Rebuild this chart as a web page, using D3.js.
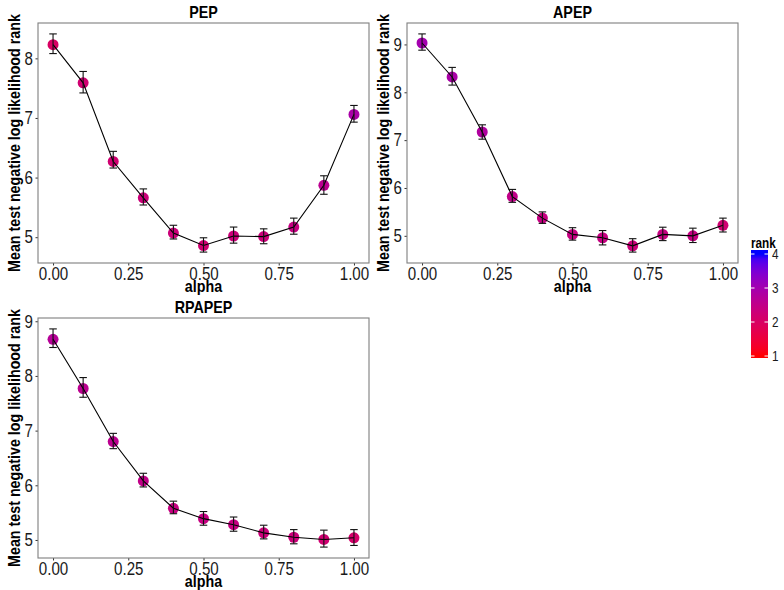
<!DOCTYPE html>
<html>
<head>
<meta charset="utf-8">
<script src="https://cdn.jsdelivr.net/npm/d3@7"></script>
<style>
  body { margin: 0; background: #fff; }
  text { font-family: "Liberation Sans", Arial, sans-serif; }
</style>
</head>
<body>
<div id="chart"></div>
<script>
// alpha values shared by every panel
const alphas = [0, 0.1, 0.2, 0.3, 0.4, 0.5, 0.6, 0.7, 0.8, 0.9, 1.0];
const xTicks = [0, 0.25, 0.5, 0.75, 1];

// PEP
const pepMean  = [8.23, 7.59, 6.27, 5.66, 5.07, 4.86, 5.02, 5.01, 5.17, 5.87, 7.06];
const pepLow   = [8.08, 7.42, 6.16, 5.54, 4.97, 4.75, 4.90, 4.89, 5.05, 5.72, 6.93];
const pepHigh  = [8.41, 7.78, 6.44, 5.81, 5.20, 4.99, 5.17, 5.14, 5.32, 6.03, 7.21];
const pepRank  = [2.0, 2.2, 2.2, 2.3, 2.3, 2.2, 2.3, 2.3, 2.4, 2.6, 2.9];

// APEP
const apepMean = [9.03, 8.32, 7.17, 5.82, 5.37, 5.03, 4.96, 4.79, 5.03, 5.00, 5.22];
const apepLow  = [8.88, 8.15, 7.02, 5.70, 5.26, 4.91, 4.81, 4.66, 4.90, 4.86, 5.08];
const apepHigh = [9.22, 8.52, 7.32, 5.97, 5.50, 5.17, 5.11, 4.94, 5.18, 5.16, 5.37];
const apepRank = [3.0, 2.9, 2.8, 2.5, 2.4, 2.4, 2.4, 2.3, 2.4, 2.4, 2.2];

// RPAPEP
const rpMean   = [8.67, 7.77, 6.80, 6.08, 5.58, 5.39, 5.28, 5.13, 5.05, 5.01, 5.04];
const rpLow    = [8.52, 7.61, 6.67, 5.97, 5.48, 5.27, 5.16, 5.02, 4.93, 4.87, 4.90];
const rpHigh   = [8.86, 7.97, 6.95, 6.22, 5.71, 5.52, 5.42, 5.27, 5.19, 5.18, 5.19];
const rpRank   = [2.7, 2.6, 2.6, 2.5, 2.4, 2.4, 2.4, 2.3, 2.3, 2.2, 2.1];

const legendBreaks = [1, 2, 3, 4];

const width = 784, height = 590;
const svg = d3.select("#chart").append("svg")
    .attr("width", width)
    .attr("height", height);

const color = d3.scaleLinear().domain([1, 4])
    .range(["red", "blue"])
    .interpolate(d3.interpolateLab);

function toRows(mean, low, high, rank) {
  return alphas.map((a, i) => ({ a: a, m: mean[i], lo: low[i], hi: high[i], r: rank[i] }));
}

function drawPanel(title, rows, box) {
  const g = svg.append("g");

  const x = d3.scaleLinear().domain([-0.05, 1.05]).range([box.left, box.right]);
  const lo = d3.min(rows, d => d.lo), hi = d3.max(rows, d => d.hi);
  const pad = (hi - lo) * 0.05;
  const y = d3.scaleLinear().domain([lo - pad, hi + pad]).range([box.bottom, box.top]);

  // axes (ticks only, no domain line)
  g.append("g")
    .attr("transform", `translate(0,${box.bottom})`)
    .call(d3.axisBottom(x).tickValues(xTicks).tickFormat(d3.format(".2f")).tickSize(2.5).tickPadding(1.8))
    .call(a => a.select(".domain").remove())
    .call(a => a.selectAll("line").attr("stroke", "#333"))
    .call(a => a.selectAll("text").attr("font-size", 18).attr("fill", "#1a1a1a").attr("font-family", null));

  g.append("g")
    .attr("transform", `translate(${box.left},0)`)
    .call(d3.axisLeft(y).ticks(5).tickFormat(d3.format("d")).tickSize(2.5).tickPadding(2.5))
    .call(a => a.select(".domain").remove())
    .call(a => a.selectAll("line").attr("stroke", "#333"))
    .call(a => a.selectAll("text").attr("font-size", 18).attr("fill", "#1a1a1a").attr("font-family", null));

  // points first, then line and error bars on top
  g.selectAll("circle")
    .data(rows)
    .join("circle")
    .attr("cx", d => x(d.a))
    .attr("cy", d => y(d.m))
    .attr("r", 5.5)
    .attr("fill", d => color(d.r));

  g.append("path")
    .datum(rows)
    .attr("fill", "none")
    .attr("stroke", "#000")
    .attr("stroke-width", 1.1)
    .attr("d", d3.line().x(d => x(d.a)).y(d => y(d.m)));

  const capW = x(0.0125) - x(0);
  const eb = g.selectAll(".eb").data(rows).join("g").attr("class", "eb")
    .attr("stroke", "#111").attr("stroke-width", 1.1);
  eb.append("line")
    .attr("x1", d => x(d.a)).attr("x2", d => x(d.a))
    .attr("y1", d => y(d.lo)).attr("y2", d => y(d.hi));
  eb.append("line")
    .attr("x1", d => x(d.a) - capW).attr("x2", d => x(d.a) + capW)
    .attr("y1", d => y(d.lo)).attr("y2", d => y(d.lo));
  eb.append("line")
    .attr("x1", d => x(d.a) - capW).attr("x2", d => x(d.a) + capW)
    .attr("y1", d => y(d.hi)).attr("y2", d => y(d.hi));

  // panel border
  g.append("rect")
    .attr("x", box.left).attr("y", box.top)
    .attr("width", box.right - box.left).attr("height", box.bottom - box.top)
    .attr("fill", "none").attr("stroke", "#7f7f7f").attr("stroke-width", 1.1);

  // titles
  const cx = (box.left + box.right) / 2;
  g.append("text")
    .attr("x", cx).attr("y", box.top - 5)
    .attr("text-anchor", "middle")
    .attr("font-size", 17).attr("font-weight", "bold")
    .text(title);

  g.append("text")
    .attr("x", cx).attr("y", box.bottom + 29)
    .attr("text-anchor", "middle")
    .attr("font-size", 17).attr("font-weight", "bold")
    .text("alpha");

  g.append("text")
    .attr("transform", `translate(${box.left - 18},${(box.top + box.bottom) / 2}) rotate(-90)`)
    .attr("text-anchor", "middle")
    .attr("font-size", 17).attr("font-weight", "bold")
    .text("Mean test negative log likelihood rank");
}

drawPanel("PEP", toRows(pepMean, pepLow, pepHigh, pepRank), { left: 38, right: 369, top: 23, bottom: 263 });
drawPanel("APEP", toRows(apepMean, apepLow, apepHigh, apepRank), { left: 407, right: 738, top: 23, bottom: 263 });
drawPanel("RPAPEP", toRows(rpMean, rpLow, rpHigh, rpRank), { left: 38, right: 369, top: 318, bottom: 558 });

// colour bar legend
const leg = { x: 751, top: 250, bottom: 358, w: 17 };
const ly = d3.scaleLinear().domain([1, 4]).range([leg.bottom - 2, leg.top + 4]);

const defs = svg.append("defs");
const grad = defs.append("linearGradient").attr("id", "rankGrad")
    .attr("gradientUnits", "userSpaceOnUse")
    .attr("x1", 0).attr("x2", 0).attr("y1", ly(1)).attr("y2", ly(4));
d3.range(0, 1.0001, 0.05).forEach(t => {
  grad.append("stop").attr("offset", t).attr("stop-color", color(1 + t * 3));
});

svg.append("rect")
  .attr("x", leg.x).attr("y", leg.top)
  .attr("width", leg.w).attr("height", leg.bottom - leg.top)
  .attr("fill", "url(#rankGrad)");

legendBreaks.forEach(b => {
  svg.append("line")
    .attr("x1", leg.x).attr("x2", leg.x + 3.5)
    .attr("y1", ly(b)).attr("y2", ly(b))
    .attr("stroke", "#fff").attr("stroke-width", 1);
  svg.append("line")
    .attr("x1", leg.x + leg.w - 3.5).attr("x2", leg.x + leg.w)
    .attr("y1", ly(b)).attr("y2", ly(b))
    .attr("stroke", "#fff").attr("stroke-width", 1);
  svg.append("text")
    .attr("x", leg.x + leg.w + 4).attr("y", ly(b) + 5)
    .attr("font-size", 14).attr("fill", "#1a1a1a")
    .text(b);
});

svg.append("text")
  .attr("x", leg.x).attr("y", leg.top - 2)
  .attr("font-size", 14).attr("font-weight", "bold")
  .text("rank");

// the original uses a narrow face; squeeze Liberation Sans to match
svg.selectAll("text").each(function() {
  const len = this.getComputedTextLength();
  d3.select(this).attr("textLength", len * 0.84).attr("lengthAdjust", "spacingAndGlyphs");
});
</script>
</body>
</html>
